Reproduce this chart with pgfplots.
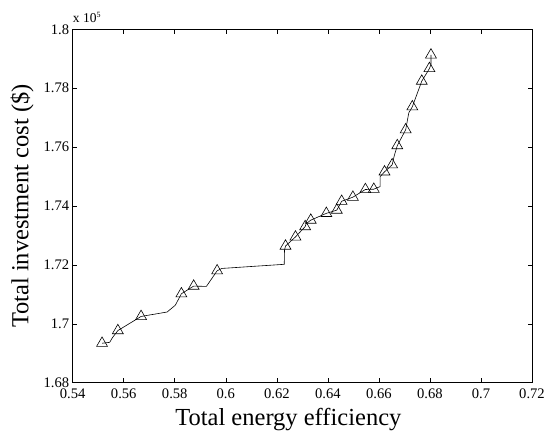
\documentclass[border=0pt]{standalone}
\usepackage{fontspec}
\setmainfont{Liberation Serif}
\usepackage{pgfplots}
\pgfplotsset{compat=1.18}

\begin{document}
\begin{tikzpicture}
\begin{axis}[
    width=459.3bp, height=353.4bp, scale only axis,
    xmin=0.54, xmax=0.72,
    ymin=1.68, ymax=1.8,
    xtick={0.54,0.56,0.58,0.6,0.62,0.64,0.66,0.68,0.7,0.72},
    ytick={1.68,1.7,1.72,1.74,1.76,1.78,1.8},
    xticklabels={0.54,0.56,0.58,0.6,0.62,0.64,0.66,0.68,0.7,0.72},
    yticklabels={1.68,1.7,1.72,1.74,1.76,1.78,1.8},
    tick align=inside,
    xtick pos=both, ytick pos=both,
    major tick length=4.5bp,
    axis line style={line width=0.9pt},
    every tick/.style={black, line width=0.6pt},
    tick label style={font=\fontsize{14.6bp}{14.6bp}\selectfont},
    xticklabel style={yshift=-2.5bp},
    xlabel={Total energy efficiency},
    ylabel={Total investment cost (\$)},
    every axis x label/.style={at={(axis description cs:0.4695,-0.1197)}, anchor=base,
        font=\fontsize{24.5bp}{24.5bp}\selectfont},
    every axis y label/.style={at={(axis description cs:-0.0967,0.5)}, rotate=90, anchor=base,
        font=\fontsize{24.5bp}{24.5bp}\selectfont},
    clip=false,
]
% Pareto front (line)
\addplot[black, line width=0.6pt] coordinates {
(0.5515,1.6934) (0.5545,1.6937) (0.5555,1.6952) (0.5577,1.6977)
(0.5668,1.7025) (0.5770,1.7040) (0.5802,1.7063) (0.5826,1.7102)
(0.5874,1.7128) (0.5924,1.7127) (0.5966,1.7180) (0.5985,1.7188)
(0.6229,1.7202) (0.6230,1.7250) (0.6234,1.7264) (0.6273,1.7295)
(0.6311,1.7330) (0.6315,1.7340) (0.6333,1.7352) (0.6394,1.7375)
(0.6435,1.7386) (0.6454,1.7416) (0.6498,1.7430) (0.6547,1.7456)
(0.6580,1.7457) (0.6605,1.7466) (0.6605,1.7500) (0.6622,1.7516)
(0.6652,1.7540) (0.6660,1.7570) (0.6672,1.7605) (0.6705,1.7659)
(0.6717,1.7716) (0.6731,1.7737) (0.6768,1.7824) (0.6790,1.7855)
(0.6798,1.7867) (0.6804,1.7880) (0.6804,1.7913)
};
% Pareto solutions (markers)
\addplot[only marks, mark=triangle, mark size=6.3bp, black, mark options={line width=0.6pt}] coordinates {
(0.5515,1.6934) (0.5577,1.6977) (0.5668,1.7025) (0.5826,1.7102)
(0.5874,1.7128) (0.5966,1.7180) (0.6234,1.7264) (0.6273,1.7295)
(0.6311,1.7330) (0.6333,1.7352) (0.6394,1.7375) (0.6435,1.7386)
(0.6454,1.7416) (0.6498,1.7430) (0.6547,1.7456) (0.6580,1.7457)
(0.6622,1.7516) (0.6652,1.7540) (0.6672,1.7605) (0.6705,1.7659)
(0.6731,1.7737) (0.6768,1.7824) (0.6798,1.7867) (0.6804,1.7913)
};
\node[anchor=base west, inner sep=0pt, yshift=6.3bp, font=\fontsize{13.5bp}{13.5bp}\selectfont]
    at (rel axis cs:0,1) {x 10\textsuperscript{\fontsize{8bp}{8bp}\selectfont 5}};
\end{axis}
\path (current axis.south west) ++(-72.7bp,-51.3bp) coordinate (bbsw);
\path (current axis.north east) ++(13bp,29.3bp) coordinate (bbne);
\pgfresetboundingbox
\path (bbsw) rectangle (bbne);
\end{tikzpicture}
\end{document}
